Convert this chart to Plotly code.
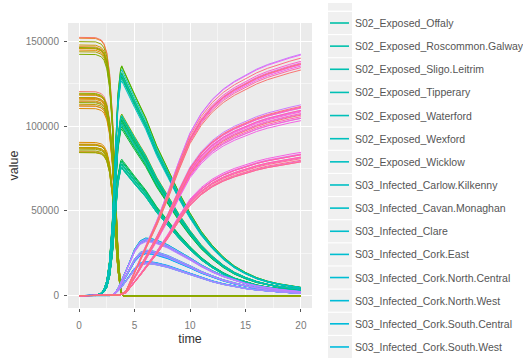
import math
import plotly.graph_objects as go

# ---------------- data ----------------
time = [0, 1, 1.5, 2, 2.25, 2.5, 2.75, 3, 3.25, 3.5, 3.75, 3.85, 4, 4.25, 4.5,
        5, 5.5, 6, 6.5, 7, 8, 9, 10, 11, 12, 13, 14, 15, 16, 17, 18, 19, 20]

# share of each constituency's population in each compartment
susceptible_share = [1, 1, 0.999, 0.99, 0.975, 0.94, 0.86, 0.70, 0.45, 0.18, 0.03, 0.008,
                     0, 0, 0, 0, 0, 0, 0, 0, 0, 0, 0, 0, 0, 0, 0, 0, 0, 0, 0, 0, 0]
exposed_share = [0, 0, 0.001, 0.01, 0.025, 0.058, 0.135, 0.29, 0.53, 0.78, 0.88, 0.89,
                 0.875, 0.85, 0.83, 0.78, 0.735, 0.69, 0.635, 0.58, 0.49, 0.40, 0.32,
                 0.25, 0.195, 0.15, 0.115, 0.09, 0.07, 0.056, 0.046, 0.038, 0.032]
infected_share = [0, 0, 0, 0, 0, 0, 0, 0.003, 0.012, 0.028, 0.05, 0.06,
                  0.075, 0.10, 0.125, 0.18, 0.212, 0.223, 0.221, 0.215, 0.197, 0.173,
                  0.147, 0.12, 0.097, 0.078, 0.062, 0.049, 0.039, 0.031, 0.025, 0.02, 0.016]
recovered_share = [0, 0, 0, 0, 0, 0, 0, 0, 0, 0.002, 0.006, 0.008,
                   0.012, 0.02, 0.045, 0.09, 0.14, 0.19, 0.24, 0.29, 0.40, 0.52, 0.63,
                   0.705, 0.76, 0.80, 0.83, 0.855, 0.877, 0.895, 0.91, 0.923, 0.935]

compartments = ["S01_Susceptible", "S02_Exposed", "S03_Infected", "S04_Recovered"]

regions = ["Carlow.Kilkenny", "Cavan.Monaghan", "Clare", "Cork.East", "Cork.North.Central",
           "Cork.North.West", "Cork.South.Central", "Cork.South.West", "Donegal",
           "Dublin.Bay.North", "Dublin.Bay.South", "Dublin.Central", "Dublin.Fingal",
           "Dublin.Mid.West", "Dublin.North.West", "Dublin.Rathdown", "Dublin.South.Central",
           "Dublin.South.West", "Dublin.West", "Dun.Laoghaire", "Galway.East", "Galway.West",
           "Kerry", "Kildare.North", "Kildare.South", "Laois", "Limerick.City",
           "Limerick.County", "Longford.Westmeath", "Louth", "Mayo", "Meath.East",
           "Meath.West", "Offaly", "Roscommon.Galway", "Sligo.Leitrim", "Tipperary",
           "Waterford", "Wexford", "Wicklow"]

population = [152500, 120500, 112000, 114500, 117000,
              89000, 118500, 85000, 152000,
              147000, 116500, 89500, 145000,
              110500, 90500, 89000, 116000,
              146000, 112000, 118500, 87000, 148000,
              146000, 115000, 87500, 84500, 113000,
              87500, 117000, 144000, 119000, 89000,
              86500, 85500, 84500, 119500, 150000,
              114000, 146500, 142500]

x_ticks = [0, 5, 10, 15, 20]
y_ticks = [0, 50000, 100000, 150000]
y_tick_text = ["0", "50000", "100000", "150000"]

# legend window visible in the picture: S02_Exposed_Offaly ... S03_Infected_Cork.South.West
legend_slice = [(1, r) for r in range(33, 40)] + [(2, r) for r in range(0, 8)]


# ---------------- ggplot2 default hue palette ----------------
def hcl_hex(h, c=100.0, l=65.0):
    WY, Wu, Wv = 100.0, 0.1978398, 0.4683363
    hr = math.radians(h)
    U, V = c * math.cos(hr), c * math.sin(hr)
    Y = WY * (((l + 16) / 116) ** 3 if l > 7.999592 else l / 903.3)
    u = U / (13 * l) + Wu
    v = V / (13 * l) + Wv
    X = 9.0 * Y * u / (4 * v)
    Z = -X / 3 - 5 * Y + 3 * Y / v

    def g(t):
        t = 1.055 * t ** (1 / 2.4) - 0.055 if t > 0.00304 else 12.92 * t
        return min(1.0, max(0.0, t))

    r = g((3.240479 * X - 1.537150 * Y - 0.498535 * Z) / WY)
    gg = g((-0.969256 * X + 1.875992 * Y + 0.041556 * Z) / WY)
    b = g((0.055648 * X - 0.204043 * Y + 1.057311 * Z) / WY)
    return "#%02X%02X%02X" % (round(r * 255), round(gg * 255), round(b * 255))


shares = [susceptible_share, exposed_share, infected_share, recovered_share]
n_series = len(compartments) * len(regions)
palette = [hcl_hex(15 + 360.0 * k / n_series) for k in range(n_series)]

fig = go.Figure()
k = 0
for ci, comp in enumerate(compartments):
    for ri, reg in enumerate(regions):
        vals = [round(population[ri] * s) for s in shares[ci]]
        fig.add_trace(go.Scatter(
            x=time, y=vals, mode="lines", name=f"{comp}_{reg}",
            line=dict(color=palette[k], width=1), showlegend=False,
            hoverinfo="name+x+y"))
        k += 1

# ---------------- layout ----------------
W, H = 523, 358
L, R, T, B = 68, 312, 23, 308          # panel box in pixels
font_family = "Arial, Liberation Sans, sans-serif"

fig.update_layout(
    width=W, height=H, autosize=False,
    margin=dict(l=L, r=W - R, t=T, b=H - B, pad=0),
    paper_bgcolor="white", plot_bgcolor="#EBEBEB",
    font=dict(family=font_family, size=10, color="#7A7A7A"),
    showlegend=False,
)
fig.update_xaxes(
    range=[-1, 21], tickvals=x_ticks, ticks="outside", ticklen=3, tickwidth=1,
    tickcolor="#555555", showgrid=True, gridcolor="white", gridwidth=1.3,
    zeroline=False, showline=False, tickfont=dict(size=10, color="#7A7A7A"),
    minor=dict(dtick=2.5, tick0=0, showgrid=True, gridcolor="#F5F5F5", gridwidth=0.6),
    title=dict(text="time", font=dict(size=12.5, color="#333333"), standoff=4),
    ticklabelstandoff=5,
)
fig.update_yaxes(
    range=[-7300, 161000], tickvals=y_ticks, ticktext=y_tick_text, ticks="outside",
    ticklen=3, tickwidth=1, tickcolor="#555555", showgrid=True, gridcolor="white",
    gridwidth=1.3, zeroline=False, showline=False, tickfont=dict(size=10, color="#7A7A7A"),
    minor=dict(dtick=25000, tick0=0, showgrid=True, gridcolor="#F5F5F5", gridwidth=0.6),
    title=dict(text="value", font=dict(size=12.5, color="#333333"), standoff=4),
    ticklabelstandoff=3,
)

# ---------------- legend (window of ggplot's long legend) ----------------
def px_x(px):
    return (px - L) / (R - L)


def px_y(py):
    return (B - py) / (B - T)


shapes = []
annotations = []
step = 23.14
first = 23.0
key_l, key_r = 328, 352
# partially visible key above the first full entry
shapes.append(dict(type="rect", xref="paper", yref="paper", x0=px_x(key_l), x1=px_x(key_r),
                   y0=px_y(10.6), y1=px_y(3), fillcolor="#F0F0F0", line=dict(width=0),
                   layer="above"))
for i, (ci, ri) in enumerate(legend_slice):
    cy = first + step * i
    shapes.append(dict(type="rect", xref="paper", yref="paper", x0=px_x(key_l), x1=px_x(key_r),
                       y0=px_y(cy + 11), y1=px_y(cy - 11), fillcolor="#F0F0F0",
                       line=dict(width=0), layer="above"))
    shapes.append(dict(type="line", xref="paper", yref="paper", x0=px_x(330), x1=px_x(349),
                       y0=px_y(cy), y1=px_y(cy),
                       line=dict(color=palette[ci * len(regions) + ri], width=1.6),
                       layer="above"))
    annotations.append(dict(text=f"{compartments[ci]}_{regions[ri]}", xref="paper",
                            yref="paper", x=px_x(353), y=px_y(cy), xanchor="left",
                            yanchor="middle", showarrow=False,
                            font=dict(size=10.5, color="#555555", family=font_family)))

fig.update_layout(shapes=shapes, annotations=annotations)

fig.write_html("out.html")
